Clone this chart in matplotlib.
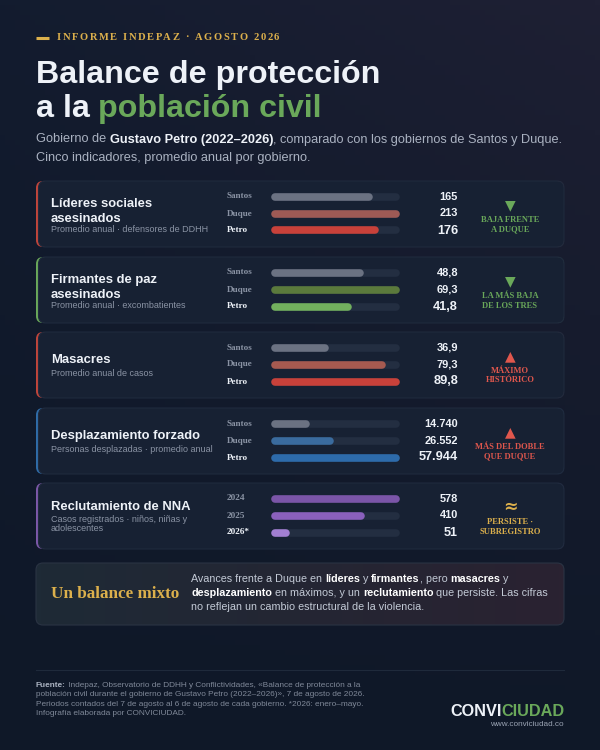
import numpy as np
import matplotlib
matplotlib.use("Agg")
import matplotlib.pyplot as plt
from matplotlib.patches import FancyBboxPatch
from matplotlib import transforms

# ---------------- data ----------------
card_titles = [["Líderes sociales", "asesinados"], ["Firmantes de paz", "asesinados"],
               ["Masacres"], ["Desplazamiento forzado"], ["Reclutamiento de NNA"]]
card_subtitles = [["Promedio anual · defensores de DDHH"], ["Promedio anual · excombatientes"],
                  ["Promedio anual de casos"], ["Personas desplazadas · promedio anual"],
                  ["Casos registrados · niños, niñas y", "adolescentes"]]
gov_labels = ["Santos", "Duque", "Petro"]
year_labels = ["2024", "2025", "2026*"]
lideres = [165, 213, 176]
firmantes = [48.8, 69.3, 41.8]
masacres = [36.9, 79.3, 89.8]
desplazamiento = [14740, 26552, 57944]
reclutamiento = [578, 410, 51]
decimals = [0, 1, 1, 0, 0]
verdict_symbols = ["▼", "▼", "▲", "▲", "≈"]
verdict_texts = [["BAJA FRENTE", "A DUQUE"], ["LA MÁS BAJA", "DE LOS TRES"],
                 ["MÁXIMO", "HISTÓRICO"], ["MÁS DEL DOBLE", "QUE DUQUE"],
                 ["PERSISTE ·", "SUBREGISTRO"]]

# ---------------- style ----------------
SANS = ["Liberation Sans", "DejaVu Sans"]
SERIF = ["Liberation Serif", "DejaVu Serif"]
WHITE = "#eef2f8"
GOLD = "#dcb04c"
GREEN = "#6aa85a"
RED_V = "#e0574d"
GREY_T = "#8a93a4"
TRACK = "#232e41"
CARD_BG = "#172133"
CARD_EDGE = "#1f2a3d"

series = [lideres, firmantes, masacres, desplazamiento, reclutamiento]
row_labels = [gov_labels, gov_labels, gov_labels, gov_labels, year_labels]
accents = ["#c0453b", "#6aa85a", "#c0453b", "#2f6ca8", "#7c58a8"]
bar_colors = [["#6b7282", "#9e5a55", "#c8413a"],
              ["#6b7282", "#5b7a3c", "#72b05e"],
              ["#6b7282", "#a65a50", "#c8413a"],
              ["#6b7282", "#3a6b9e", "#2d6bab"],
              ["#7b55a8", "#8a60bc", "#a27fd2"]]
verdict_colors = [GREEN, GREEN, RED_V, RED_V, GOLD]
card_tops = [181, 257, 332, 408, 483]
CARD_H = 66

fig = plt.figure(figsize=(6, 7.5), dpi=100)
bg = fig.add_axes([0, 0, 1, 1])
bg.set_xlim(0, 600)
bg.set_ylim(750, 0)
bg.axis("off")

# background gradient
H, W = 150, 120
yy, xx = np.mgrid[0:1:H * 1j, 0:1:W * 1j]
c_tl = np.array([0x13, 0x1c, 0x2f]) / 255
c_tr = np.array([0x1f, 0x20, 0x34]) / 255
c_b = np.array([0x0f, 0x18, 0x28]) / 255
top = c_tl[None, None, :] * (1 - xx[..., None]) + c_tr[None, None, :] * xx[..., None]
img = top * (1 - yy[..., None] ** 0.8) + c_b[None, None, :] * (yy[..., None] ** 0.8)
bg.imshow(img, extent=[0, 600, 750, 0], aspect="auto", zorder=0)

R = fig.canvas.get_renderer()


def adv(s, **kw):
    t1 = bg.text(0, 0, "|" + s + "|", **kw)
    w1 = t1.get_window_extent(R).width
    t1.remove()
    t2 = bg.text(0, 0, "||", **kw)
    w2 = t2.get_window_extent(R).width
    t2.remove()
    return w1 - w2


def rich(x, y, segs, va="baseline", **common):
    for s, kw in segs:
        props = dict(common)
        props.update(kw)
        bg.text(x, y, s, va=va, ha="left", **props)
        x += adv(s, **{k: v for k, v in props.items() if k in ("fontsize", "family", "fontweight")})
    return x


def spaced(x, y, s, spacing, **kw):
    for ch in s:
        bg.text(x, y, ch, va="center", ha="left", **kw)
        x += adv(ch, **{k: v for k, v in kw.items() if k in ("fontsize", "family", "fontweight")}) + spacing


# header
bg.plot([36, 49], [37.5, 37.5], color=GOLD, lw=2.2, solid_capstyle="butt")
spaced(57, 37.5, "INFORME INDEPAZ · AGOSTO 2026", 1.58, fontsize=7.6, family=SERIF,
       fontweight="bold", color=GOLD)

bg.text(35.5, 83, "Balance de protección", fontsize=23.2, family=SANS, fontweight="bold",
        color=WHITE, va="baseline")
rich(35.5, 117, [("a la ", dict(color=WHITE)), ("población civil", dict(color=GREEN))],
     fontsize=23.2, family=SANS, fontweight="bold")

SUBC = "#aab2c1"
rich(36, 142.5, [("Gobierno de ", dict(color=SUBC)),
                 ("Gustavo Petro (2022–2026)", dict(color=WHITE, fontweight="bold")),
                 (", comparado con los gobiernos de Santos y Duque.", dict(color=SUBC))],
     fontsize=9.2, family=SANS)
bg.text(36, 161.5, "Cinco indicadores, promedio anual por gobierno.", fontsize=9.2, family=SANS,
        color=SUBC, va="baseline")


def fmt(v, d):
    if d == 0:
        return f"{int(round(v)):,}".replace(",", ".")
    return f"{v:.{d}f}".replace(".", ",")


# cards
for i, T in enumerate(card_tops):
    acc = FancyBboxPatch((36, T), 528, CARD_H, boxstyle="round,pad=0,rounding_size=7",
                         fc=accents[i], ec="none", zorder=1)
    bg.add_patch(acc)
    card = FancyBboxPatch((38.5, T), 525.5, CARD_H, boxstyle="round,pad=0,rounding_size=7",
                          fc=CARD_BG, ec=CARD_EDGE, lw=0.8, zorder=2)
    bg.add_patch(card)

    # titles
    if len(card_titles[i]) == 2:
        bg.text(51, T + 26, card_titles[i][0], fontsize=9.4, family=SANS, fontweight="bold",
                color=WHITE, va="baseline", zorder=3)
        bg.text(51, T + 40.5, card_titles[i][1], fontsize=9.4, family=SANS, fontweight="bold",
                color=WHITE, va="baseline", zorder=3)
        sub_y = [T + 51]
    else:
        ty = T + 28 if i != 4 else T + 24
        bg.text(51, ty, card_titles[i][0], fontsize=9.4, family=SANS, fontweight="bold",
                color=WHITE, va="center", zorder=3)
        sub_y = [ty + 15.5] if i != 4 else [T + 39.5, T + 48]
    for k, s in enumerate(card_subtitles[i]):
        bg.text(51, sub_y[k], s, fontsize=6.5, family=SANS, color=GREY_T, va="baseline", zorder=3)

    # bars
    vals = series[i]
    ax = fig.add_axes([271 / 600, 1 - (T + CARD_H) / 750, 129 / 600, CARD_H / 750])
    ax.axis("off")
    ax.patch.set_alpha(0)
    vmax = max(vals)
    thick_px = 7.6
    r = thick_px / 2
    pad = vmax * r / (129 - 2 * r)
    ax.set_xlim(-pad, vmax + pad)
    idx = np.arange(len(vals))
    ax.set_ylim((CARD_H - 15.5) / 17, -15.5 / 17)
    lw = thick_px * 72 / 100
    ax.hlines(idx, 0, vmax, colors=TRACK, lw=lw, capstyle="round")
    ax.hlines(idx, 0, vals, colors=bar_colors[i], lw=lw, capstyle="round")

    tr = transforms.blended_transform_factory(bg.transData, ax.transData)
    for k, v in enumerate(vals):
        last = k == len(vals) - 1
        ax.text(227, k, row_labels[i][k], transform=tr, fontsize=6.6, family=SERIF,
                fontweight="bold", color=WHITE if last else GREY_T, va="center", ha="left")
        ax.text(458, k, fmt(v, decimals[i]), transform=tr, fontsize=9.2 if last else 7.9,
                family=SANS, fontweight="bold", color=WHITE, va="center", ha="right")

    # verdict
    vc = verdict_colors[i]
    if verdict_symbols[i] == "≈":
        bg.text(510, T + 24, "≈", fontsize=12.5, family=["DejaVu Sans"], fontweight="bold",
                color=vc, ha="center", va="center", zorder=3)
    else:
        bg.text(510, T + 24, verdict_symbols[i], fontsize=10, family=["DejaVu Sans"],
                color=vc, ha="center", va="center", zorder=3)
    for k, s in enumerate(verdict_texts[i]):
        bg.text(510, T + 39 + 9.5 * k, s, fontsize=6.1, family=SERIF, fontweight="bold",
                color=vc, ha="center", va="center", zorder=3)

# summary box
box = FancyBboxPatch((36, 563), 528, 62, boxstyle="round,pad=0,rounding_size=7",
                     fc="none", ec="#2a3343", lw=0.8, zorder=3)
bg.add_patch(box)
gx = np.linspace(0, 1, 100)[None, :, None]
c_l = np.array([0x1e, 0x2a, 0x36]) / 255
c_r = np.array([0x2a, 0x22, 0x31]) / 255
gimg = c_l * (1 - gx) + c_r * gx
gimg = np.repeat(gimg, 10, axis=0)
im = bg.imshow(gimg, extent=[36, 564, 625, 563], aspect="auto", zorder=2)
clip = FancyBboxPatch((36, 563), 528, 62, boxstyle="round,pad=0,rounding_size=7",
                      fc="none", ec="none", transform=bg.transData)
im.set_clip_path(clip)

bg.text(51, 594, "Un balance mixto", fontsize=12.3, family=SERIF, fontweight="bold",
        color=GOLD, va="center", zorder=4)
NC = "#c3cad6"
B = dict(color="#ffffff", fontweight="bold")
N = dict(color=NC)
lines = [
    [("Avances frente a Duque en ", N), ("líderes", B), (" y ", N), ("firmantes", B),
     (", pero ", N), ("masacres", B), (" y", N)],
    [("desplazamiento", B), (" en máximos, y un ", N), ("reclutamiento", B),
     (" que persiste. Las cifras", N)],
    [("no reflejan un cambio estructural de la violencia.", N)],
]
for k, segs in enumerate(lines):
    rich(191, 579.5 + 14 * k, segs, va="center", fontsize=7.75, family=SANS, zorder=4)

# footer
bg.plot([36, 564], [669.5, 669.5], color="#1f2a3b", lw=0.8)
FC = "#7f8898"
foot = [
    [("Fuente:", dict(color="#aab2c1", fontweight="bold")),
     (" Indepaz, Observatorio de DDHH y Conflictividades, «Balance de protección a la", dict(color=FC))],
    [("población civil durante el gobierno de Gustavo Petro (2022–2026)», 7 de agosto de 2026.", dict(color=FC))],
    [("Periodos contados del 7 de agosto al 6 de agosto de cada gobierno. *2026: enero–mayo.", dict(color=FC))],
    [("Infografía elaborada por CONVICIUDAD.", dict(color=FC))],
]
for k, segs in enumerate(foot):
    rich(36, 685.5 + 9.3 * k, segs, va="center", fontsize=5.95, family=SANS)

LF = 11.7
wc = adv("CONVI", fontsize=LF, family=SANS, fontweight="bold")
wd = adv("CIUDAD", fontsize=LF, family=SANS, fontweight="bold")
rich(564 - wc - wd + 0.5, 711, [("CONVI", dict(color=WHITE)), ("CIUDAD", dict(color=GREEN))],
     va="center", fontsize=LF, family=SANS, fontweight="bold")
bg.text(564, 725, "www.conviciudad.co", fontsize=5.9, family=SANS, color="#9aa3b3",
        ha="right", va="center")

fig.savefig("out.png", dpi=100)
